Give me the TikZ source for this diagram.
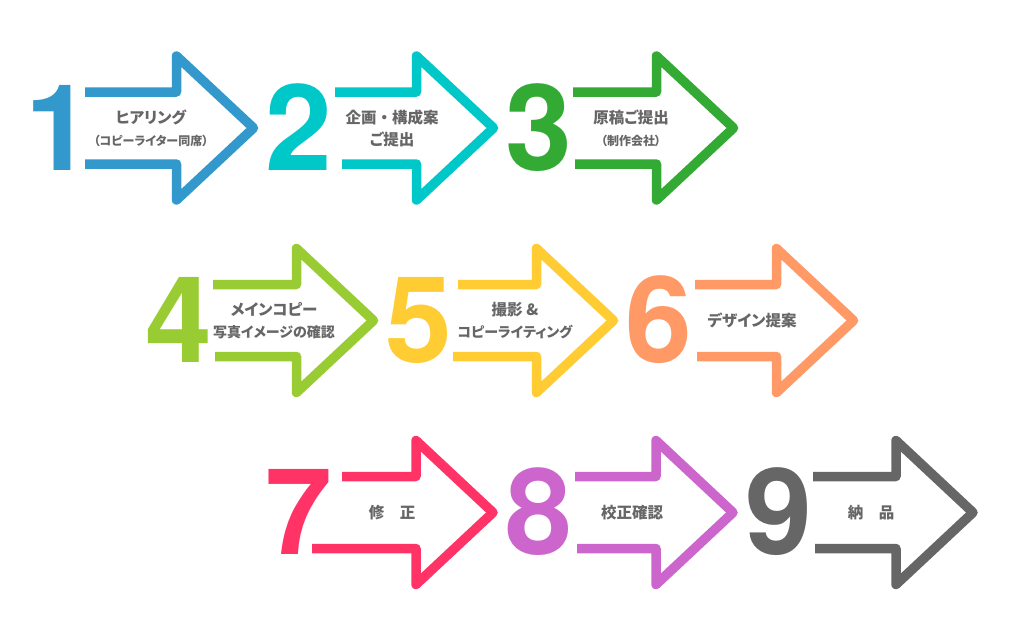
\documentclass[tikz,border=0pt]{standalone}
\usepackage{fontspec}
\newfontfamily\jp{Noto Sans CJK JP}[RawFeature=+palt]
\newfontfamily\jpfull{Noto Sans CJK JP}
\newfontfamily\numfont{TeX Gyre Heros}
\definecolor{c1}{HTML}{3399CC}
\definecolor{c2}{HTML}{00C8C8}
\definecolor{c3}{HTML}{33AA33}
\definecolor{c4}{HTML}{99CC33}
\definecolor{c5}{HTML}{FFCC33}
\definecolor{c6}{HTML}{FF9966}
\definecolor{c7}{HTML}{FF3366}
\definecolor{c8}{HTML}{CC66CC}
\definecolor{c9}{HTML}{666666}
\definecolor{txt}{HTML}{666666}
\tikzset{
  arr/.style={line width=9.5pt, line join=round, line cap=butt},
  num/.style={font=\numfont\bfseries\fontsize{120}{120}\selectfont, inner sep=0pt, anchor=base},
  lbl/.style={font=\jp\bfseries\fontsize{15.5}{22}\selectfont, text=txt, align=center, inner sep=0pt},
}
% #1 head base x, #2 centre y, #3 top start x, #4 bottom start x, #5 colour
\newcommand\ArrowShape[5]{%
  \draw[arr,draw=#5] (#3,#2-36) -- (#1,#2-36) -- (#1,#2-72) -- (#1+77,#2)
     -- (#1,#2+72) -- (#1,#2+36) -- (#4,#2+36);
}
\begin{document}
\begin{tikzpicture}[x=1pt,y=-1pt]
\useasboundingbox[fill=white] (0,0) rectangle (1024,640);
% row 1
\ArrowShape{176.5}{128}{85}{85}{c1}
\ArrowShape{416.5}{128}{335}{342}{c2}
\ArrowShape{656.5}{128}{573}{575}{c3}
% row 2
\ArrowShape{296.5}{320.5}{213}{215}{c4}
\ArrowShape{536.5}{320.5}{458}{453}{c5}
\ArrowShape{776.5}{320.5}{695}{697}{c6}
% row 3
\ArrowShape{416}{512.5}{342}{312}{c7}
\ArrowShape{656}{512.5}{575}{577}{c8}
\ArrowShape{896}{512.5}{813}{815}{c9}
% numbers
\node[num,text=c1] (n1) at (59,170) {1};
\node[num,text=c2] (n2) at (299,170) {2};
\node[num,text=c3] (n3) at (539,170) {3};
\node[num,text=c4] (n4) at (179,362.5) {4};
\node[num,text=c5] (n5) at (419,362.5) {5};
\node[num,text=c6] (n6) at (659,362.5) {6};
\node[num,text=c7] (n7) at (299,554.5) {7};
\node[num,text=c8] (n8) at (539,554.5) {8};
\node[num,text=c9] (n9) at (779,554.5) {9};
% labels
\node[lbl] (t1) at (151,128) {ヒアリング\\{\fontsize{12}{14}\selectfont （コピーライター同席）}};
\node[lbl] (t2) at (392,128) {企画{\jpfull ・}構成案\\ご提出};
\node[lbl] (t3) at (631,128) {原稿ご提出\\{\fontsize{12}{14}\selectfont （制作会社）}};
\node[lbl] (t4) at (274,320.5) {メインコピー\\{\fontsize{14}{14}\selectfont 写真イメージの確認}};
\node[lbl] (t5) at (515,320.5) {撮影 \&\\{\fontsize{14}{14}\selectfont コピーライティング}};
\node[lbl] (t6) at (752,320.5) {デザイン提案};
\node[lbl] (t7) at (392,512.5) {修　正};
\node[lbl] (t8) at (632,512.5) {校正確認};
\node[lbl] (t9) at (871,512.5) {納　品};
\end{tikzpicture}
\end{document}
